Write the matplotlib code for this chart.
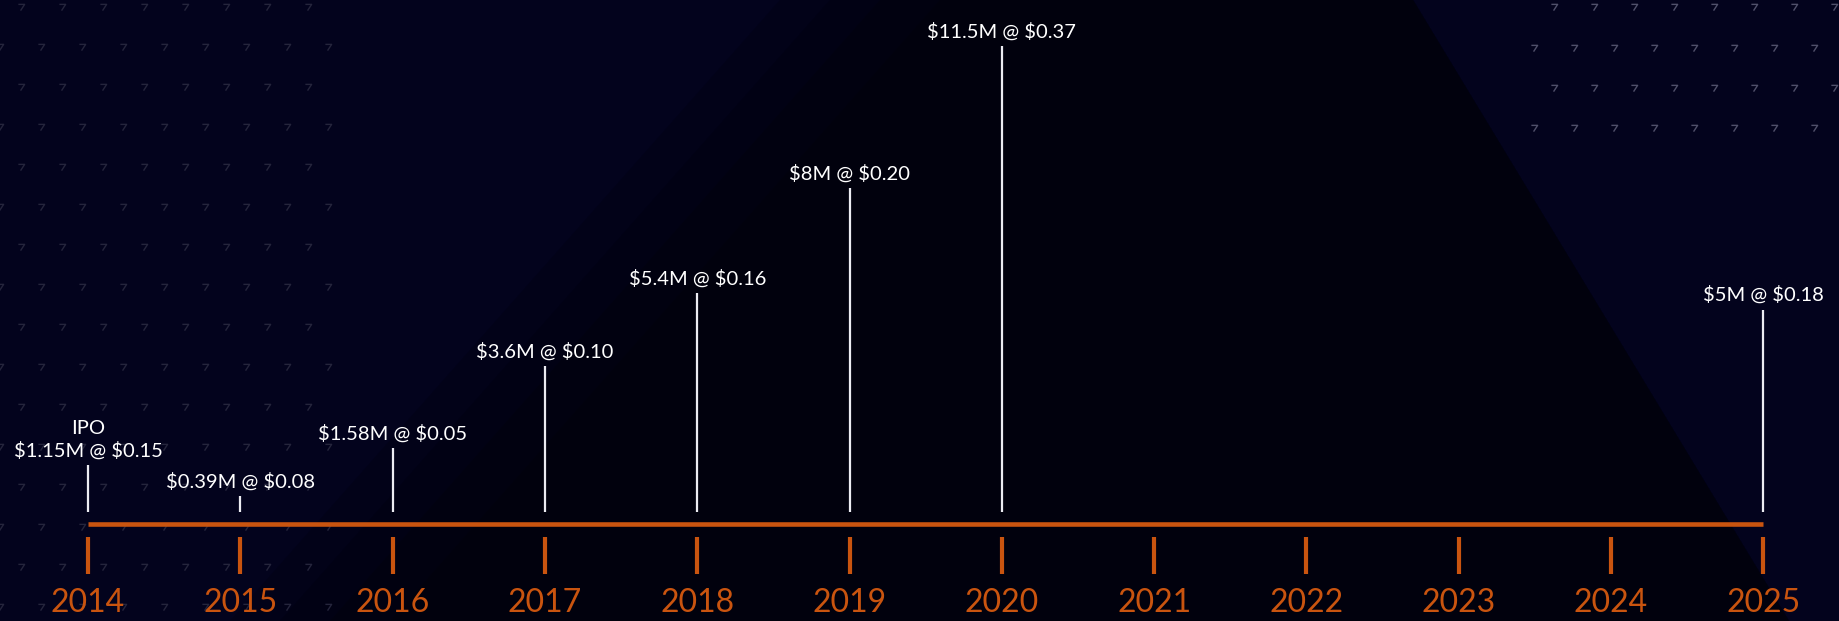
import numpy as np
import matplotlib.pyplot as plt
from matplotlib.path import Path
from matplotlib.patches import Polygon

plt.rcParams['font.family'] = ['Lato', 'DejaVu Sans']

# Funding rounds: year, amount raised ($M), label
years = [2014, 2015, 2016, 2017, 2018, 2019, 2020, 2025]
raised = [1.15, 0.39, 1.58, 3.6, 5.4, 8.0, 11.5, 5.0]
labels = ['IPO\n$1.15M @ $0.15', '$0.39M @ $0.08', '$1.58M @ $0.05', '$3.6M @ $0.10',
          '$5.4M @ $0.16', '$8M @ $0.20', '$11.5M @ $0.37', '$5M @ $0.18']
tick_years = list(range(2014, 2026))

navy = '#03031d'
dark = '#01010d'
orange = '#c9540f'

W, H = 1839, 621
fig = plt.figure(figsize=(W / 100, H / 100), dpi=100)
fig.patch.set_facecolor(navy)
ax = fig.add_axes([0, 0, 1, 1])
ax.set_facecolor(navy)
ax.axis('off')

# scale: 152.3 px per year, 40.5 px per $M, zero line 109 px from bottom
px_year = 152.3
px_m = 40.5
base = 109
ax.set_xlim(2014 - 88 / px_year, 2014 - 88 / px_year + W / px_year)
ax.set_ylim(-base / px_m, (H - base) / px_m)

def py2y(py):
    # pixel row from top -> data y
    return (H - py - base) / px_m

# background: darker diagonal band
def a(px, py):
    return (px / W, 1 - py / H)

for shift, alpha in [(0, 0.3), (50, 0.35), (100, 0.5), (160, 0.8)]:
    band = Polygon([a(780 + shift, 0), a(1413, 0), a(1789, H), a(230 + shift, H)],
                   closed=True, transform=ax.transAxes, facecolor=dark,
                   edgecolor='none', alpha=alpha, zorder=0)
    ax.add_patch(band)

# decorative pattern marks
mark = Path([(-1, 1), (1, 1), (-0.3, -1)], [Path.MOVETO, Path.LINETO, Path.LINETO])
for row, py in enumerate(range(7, H, 40)):
    xs = np.arange(21 if row % 2 == 0 else 0, 335, 41)
    ax.plot(xs / W, np.full(len(xs), 1 - py / H), transform=ax.transAxes,
            linestyle='none', marker=mark, markersize=4.5, markerfacecolor='none',
            markeredgecolor='#25253c', markeredgewidth=1.0, zorder=1)
for row, py in enumerate([7, 48, 88, 128]):
    xs = np.arange(1554 if row % 2 == 0 else 1534, W + 5, 40)
    ax.plot(xs / W, np.full(len(xs), 1 - py / H), transform=ax.transAxes,
            linestyle='none', marker=mark, markersize=4.5, markerfacecolor='none',
            markeredgecolor='#50506a', markeredgewidth=1.0, zorder=1)

# timeline axis
ax.plot([tick_years[0], tick_years[-1]], [py2y(524), py2y(524)], color=orange, lw=3.3,
        solid_capstyle='butt', zorder=3)
ax.vlines(tick_years, py2y(574), py2y(537), color=orange, lw=3.0, zorder=3)
for yr in tick_years:
    ax.text(yr, py2y(603), str(yr), color=orange, fontsize=23,
            ha='center', va='center', zorder=3)

# stems and labels
ax.vlines(years, 0, raised, color='#ececf2', lw=1.6, zorder=3)
for yr, amt, lab in zip(years, raised, labels):
    ax.annotate(lab, (yr, amt), xytext=(0, 6), textcoords='offset points',
                ha='center', va='baseline', color='white', fontsize=14.5,
                linespacing=1.3, parse_math=False, zorder=4)

fig.savefig('out.png', dpi=100, facecolor=navy)
